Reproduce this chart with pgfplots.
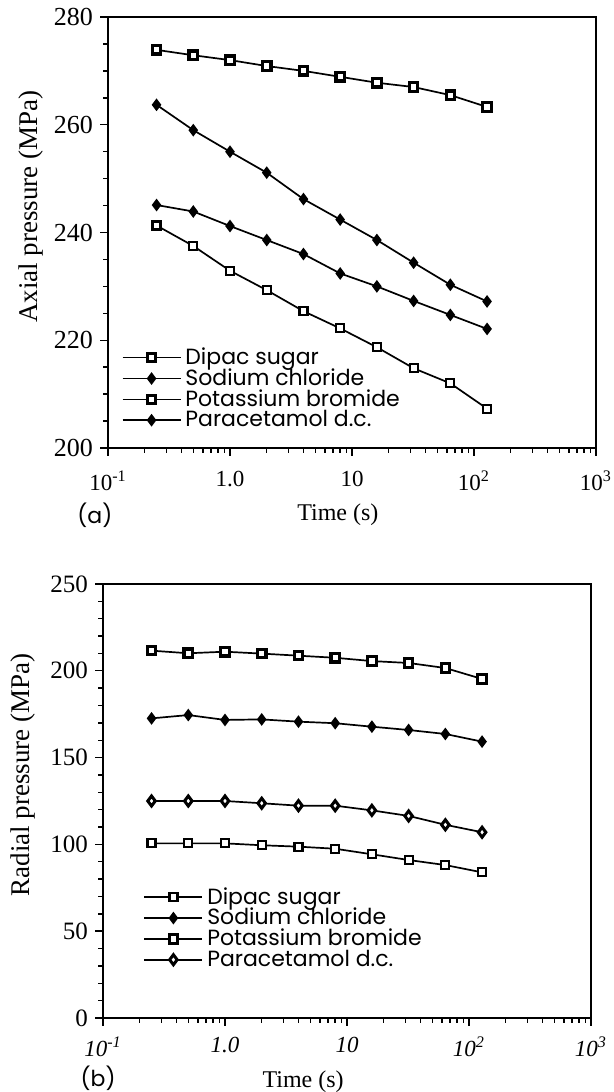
\documentclass[border=0pt]{standalone}
\usepackage{fontspec}
\setmainfont{Liberation Serif}
\newfontfamily\legfont{Poppins}
\usepackage{pgfplots}
\usepackage{pgfplotstable}
\pgfplotsset{compat=1.18}

% times (s) and pressures (MPa)
\pgfplotstableread{
t     dipac  nacl   kbr    para
0.25  241.3  263.7  273.9  245.1
0.5   237.5  259.0  272.9  243.9
1     232.9  255.0  272.0  241.2
2     229.3  251.1  270.9  238.6
4     225.4  246.2  270.0  236.0
8     222.2  242.4  268.9  232.4
16    218.7  238.6  267.8  230.0
32    214.8  234.4  267.0  227.3
64    212.0  230.3  265.5  224.7
128   207.3  227.2  263.3  222.1
}\axialdata

\pgfplotstableread{
t     dipac  nacl   kbr    para
0.25  100.6  172.6  211.6  125.0
0.5   100.6  174.5  210.1  125.0
1     100.6  171.7  211.0  125.0
2      99.5  172.0  209.9  123.7
4      98.7  170.7  208.7  122.3
8      97.5  169.8  207.5  122.3
16     94.3  167.8  205.6  119.6
32     91.0  165.9  204.5  116.4
64     88.1  163.6  201.6  111.3
128    83.9  159.2  195.3  107.0
}\radialdata

\tikzset{
  dipacmk/.style={black, line width=0.85pt, mark=square*, mark size=2pt,
    mark options={solid, fill=white, line width=1.1pt}},
  kbrmk/.style={black, line width=0.85pt, mark=square*, mark size=2.1pt,
    mark options={solid, fill=white, line width=1.6pt}},
  naclmk/.style={black, line width=0.85pt, mark=diamond*, mark size=2.5pt,
    mark options={solid, fill=black}},
  paramk/.style={black, line width=0.85pt, mark=diamond*, mark size=2.5pt,
    mark options={solid, fill=white, line width=1.5pt}},
}

\begin{document}
\begin{tikzpicture}
\begin{axis}[
  at={(54pt,322pt)}, anchor=south west,
  scale only axis, width=244pt, height=215.5pt, clip=false,
  xmode=log, xmin=0.1, xmax=1000,
  xtick={0.1,1,10,100,1000},
  xticklabels={10\textsuperscript{-1},1.0,10,10\textsuperscript{2},10\textsuperscript{3}},
  ymin=200, ymax=280, ytick={200,220,...,280}, minor y tick num=3,
  xtick pos=bottom, ytick pos=left,
  tick align=outside,
  axis line style={line width=0.9pt},
  major tick length=4pt, minor tick length=2.5pt,
  tick style={black, line width=0.7pt},
  /pgf/number format/assume math mode=true,
  x tick label style={font=\fontsize{11.5}{13}\selectfont, yshift=-4pt},
  y tick label style={font=\fontsize{13}{15}\selectfont},
  xlabel={Time (s)}, ylabel={Axial pressure (MPa)},
  xlabel style={at={(rel axis cs:0.471,-0.155)}, anchor=center,
    font=\fontsize{12}{14}\selectfont},
  ylabel style={at={(rel axis cs:-0.158,0.56)}, anchor=center,
    font=\fontsize{13.5}{15}\selectfont},
  legend image code/.code={\draw[mark repeat=2, mark phase=2, #1]
    plot coordinates {(0pt,0pt) (14.5pt,0pt) (29pt,0pt)};},
  legend style={draw=none, fill=none, at={(0.015,0.025)}, anchor=south west,
    font=\legfont\fontsize{11}{12}\selectfont, row sep=-2.4pt,
    nodes={inner ysep=1.5pt, inner xsep=2pt}},
  legend cell align=left,
]
\addplot[dipacmk] table[x=t, y=dipac] {\axialdata};
\addlegendentry{Dipac sugar}
\addplot[naclmk] table[x=t, y=nacl] {\axialdata};
\addlegendentry{Sodium chloride}
\addplot[kbrmk] table[x=t, y=kbr] {\axialdata};
\addlegendentry{Potassium bromide}
\addplot[naclmk] table[x=t, y=para] {\axialdata};
\addlegendentry{Paracetamol d.c.}
\node[font=\legfont\fontsize{11}{12}\selectfont] at (rel axis cs:-0.027,-0.155) {(a)};
\end{axis}

\begin{axis}[
  at={(51.5pt,37pt)}, anchor=south west,
  scale only axis, width=244pt, height=217pt, clip=false,
  xmode=log, xmin=0.1, xmax=1000,
  xtick={0.1,1,10,100,1000},
  xticklabels={10\textsuperscript{-1},1.0,10,10\textsuperscript{2},10\textsuperscript{3}},
  ymin=0, ymax=250, ytick={0,50,...,250}, minor y tick num=4,
  xtick pos=bottom, ytick pos=left,
  tick align=outside,
  axis line style={line width=0.9pt},
  major tick length=4pt, minor tick length=2.5pt,
  tick style={black, line width=0.7pt},
  /pgf/number format/assume math mode=true,
  x tick label style={font=\itshape\fontsize{11.5}{13}\selectfont, yshift=-2pt},
  y tick label style={font=\fontsize{12.5}{14}\selectfont},
  xlabel={Time (s)}, ylabel={Radial pressure (MPa)},
  xlabel style={at={(rel axis cs:0.41,-0.147)}, anchor=center,
    font=\fontsize{12}{14}\selectfont},
  ylabel style={at={(rel axis cs:-0.164,0.56)}, anchor=center,
    font=\fontsize{13.5}{15}\selectfont},
  legend image code/.code={\draw[mark repeat=2, mark phase=2, #1]
    plot coordinates {(0pt,0pt) (14.5pt,0pt) (29pt,0pt)};},
  legend style={draw=none, fill=none, at={(0.07,0.095)}, anchor=south west,
    font=\legfont\fontsize{11}{12}\selectfont, row sep=-2.4pt,
    nodes={inner ysep=1.5pt, inner xsep=2pt}},
  legend cell align=left,
]
\addplot[dipacmk] table[x=t, y=dipac] {\radialdata};
\addlegendentry{Dipac sugar}
\addplot[naclmk] table[x=t, y=nacl] {\radialdata};
\addlegendentry{Sodium chloride}
\addplot[kbrmk] table[x=t, y=kbr] {\radialdata};
\addlegendentry{Potassium bromide}
\addplot[paramk] table[x=t, y=para] {\radialdata};
\addlegendentry{Paracetamol d.c.}
\node[font=\legfont\fontsize{11}{12}\selectfont] at (rel axis cs:-0.01,-0.138) {(b)};
\end{axis}
\pgfresetboundingbox
\path[use as bounding box] (0,0) rectangle (307pt,546pt);
\end{tikzpicture}
\end{document}
